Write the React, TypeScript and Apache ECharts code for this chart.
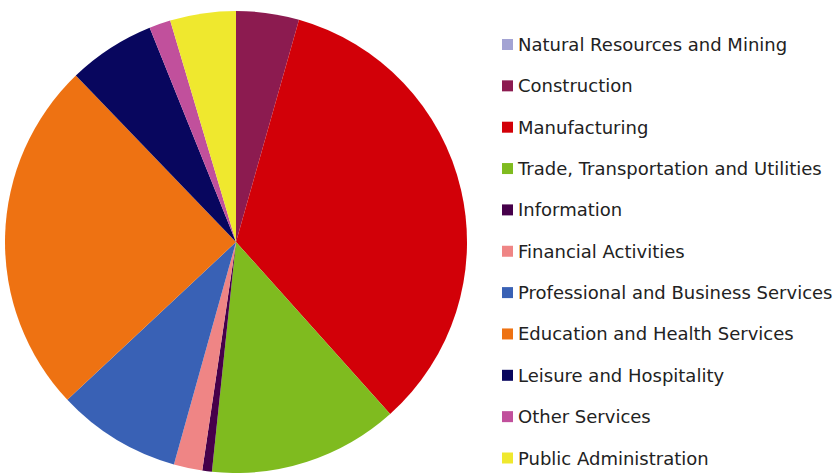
import React, { useEffect, useRef } from "react";
import * as echarts from "echarts";

const categories = [
  "Natural Resources and Mining",
  "Construction",
  "Manufacturing",
  "Trade, Transportation and Utilities",
  "Information",
  "Financial Activities",
  "Professional and Business Services",
  "Education and Health Services",
  "Leisure and Hospitality",
  "Other Services",
  "Public Administration",
];

const shares = [0, 4.4, 34.0, 13.3, 0.67, 2.0, 8.7, 24.8, 6.1, 1.5, 4.6];

const colors = [
  "#a3a3d3",
  "#8c1b50",
  "#d20008",
  "#7fbb1f",
  "#46004a",
  "#ef8585",
  "#3961b5",
  "#ee7212",
  "#08065e",
  "#c1509c",
  "#efe82e",
];

export default function App() {
  const ref = useRef<HTMLDivElement>(null);
  useEffect(() => {
    if (!ref.current) return;
    const chart = echarts.init(ref.current, undefined, { renderer: "svg" });
    chart.setOption({
      animation: false,
      color: colors,
      legend: {
        orient: "vertical",
        left: 497,
        top: 30.5,
        height: 460,
        itemWidth: 11,
        itemHeight: 11,
        itemGap: 23.35,
        icon: "rect",
        data: categories,
        textStyle: {
          fontFamily: "DejaVu Sans",
          fontSize: 18,
          color: "#222",
          padding: [0, 0, 0, 0],
        },
      },
      series: [
        {
          type: "pie",
          center: [236, 242],
          radius: 231,
          startAngle: 90,
          clockwise: true,
          label: { show: false },
          labelLine: { show: false },
          itemStyle: { borderWidth: 0 },
          emphasis: { disabled: true },
          data: categories.map((name, i) => ({ name, value: shares[i] })),
        },
      ],
    });
    return () => chart.dispose();
  }, []);
  return (
    <div
      ref={ref}
      style={{ position: "fixed", left: 0, top: 0, width: 838, height: 473, background: "#fff" }}
    />
  );
}
